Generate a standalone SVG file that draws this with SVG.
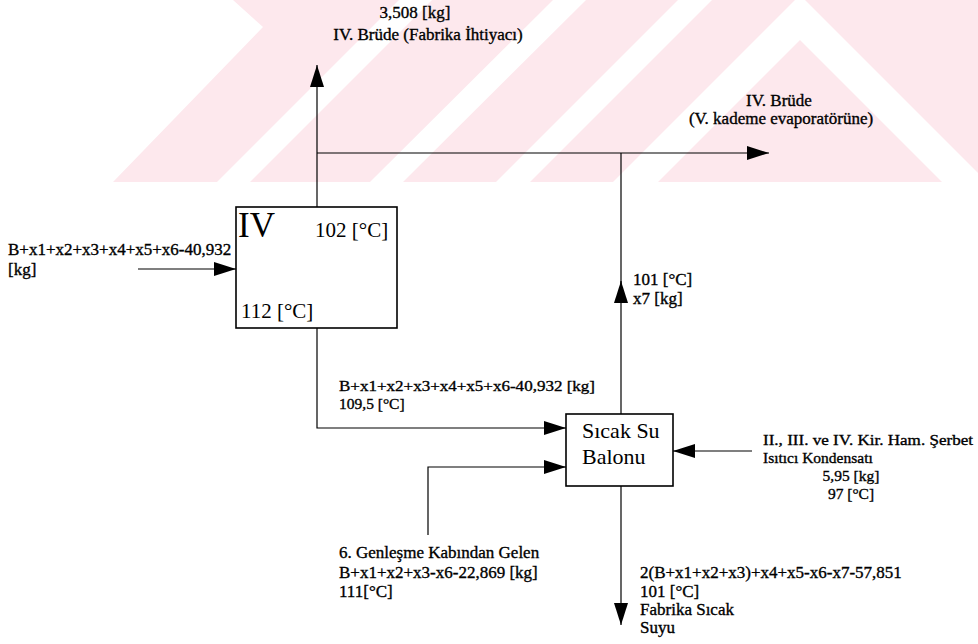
<svg xmlns="http://www.w3.org/2000/svg" width="978" height="644" viewBox="0 0 978 644">
<defs>
<style>
.t{font-family:"Liberation Serif","Times New Roman",serif;font-size:17px;fill:#000;stroke:#000;stroke-width:0.35}
.s{font-size:15.5px}
.big{font-family:"Liberation Serif","Times New Roman",serif;fill:#000}
.ln{fill:none;stroke:#000;stroke-width:1.2}
.box{fill:none;stroke:#000;stroke-width:1.6}
.wm{fill:#fde8ed}
.wh{fill:#fff}
</style>
<clipPath id="wmclip"><rect x="0" y="0" width="978" height="182"/></clipPath>
<marker id="ah" viewBox="0 0 22 14" refX="22" refY="7" markerWidth="22" markerHeight="14" markerUnits="userSpaceOnUse" orient="auto">
<path d="M0,0 L22,7 L0,14 Z" fill="#000"/>
</marker>
</defs>
<rect x="0" y="0" width="978" height="644" fill="#fff"/>
<g id="watermark" clip-path="url(#wmclip)">
<polygon class="wm" points="113,182 263,27 233,0 978,0 978,182"/>
<polygon class="wh" points="217,182 250,182 432,0 399,0"/>
<polygon class="wh" points="370,182 403,182 586,0 553,0"/>
<polygon class="wh" points="496,182 530,182 712,0 678,0"/>
<polygon class="wh" points="800,-5 613,182 658,182 800,40 942,182 987,182"/>
</g>
<g id="connectors">
<path class="ln" d="M317,207 V65" marker-end="url(#ah)"/>
<path class="ln" d="M317,153 H769" marker-end="url(#ah)"/>
<path class="ln" d="M621,414 V281" marker-end="url(#ah)"/>
<line class="ln" x1="621" y1="153" x2="621" y2="300"/>
<path class="ln" d="M138,269 H236" marker-end="url(#ah)"/>
<path class="ln" d="M317,328 V428 H566" marker-end="url(#ah)"/>
<path class="ln" d="M428,535 V467 H566" marker-end="url(#ah)"/>
<path class="ln" d="M752,451 H673" marker-end="url(#ah)"/>
<path class="ln" d="M621,486 V625" marker-end="url(#ah)"/>
</g>
<g id="node-iv">
<rect class="box" x="236" y="207" width="161" height="121"/>
<text class="big" x="238" y="237" font-size="35">IV</text>
<text class="big" x="315" y="237" font-size="21">102 [°C]</text>
<text class="big" x="241" y="318" font-size="21">112 [°C]</text>
</g>
<g id="node-sicak-su">
<rect class="box" x="566" y="414" width="107" height="72"/>
<text class="big" x="582" y="438" font-size="22">Sıcak Su</text>
<text class="big" x="582" y="464" font-size="22">Balonu</text>
</g>
<g id="labels">
<text class="t" x="415" y="18" text-anchor="middle">3,508 [kg]</text>
<text class="t" x="428" y="40" text-anchor="middle">IV. Brüde (Fabrika İhtiyacı)</text>
<text class="t" x="779" y="106" text-anchor="middle">IV. Brüde</text>
<text class="t" x="781" y="124" text-anchor="middle">(V. kademe evaporatörüne)</text>
<text class="t" x="8" y="255">B+x1+x2+x3+x4+x5+x6-40,932</text>
<text class="t" x="8" y="275">[kg]</text>
<text class="t" x="633" y="285">101 [°C]</text>
<text class="t" x="633" y="304">x7 [kg]</text>
<text class="t s" x="339" y="391" textLength="256" lengthAdjust="spacingAndGlyphs">B+x1+x2+x3+x4+x5+x6-40,932 [kg]</text>
<text class="t s" x="339" y="409">109,5 [°C]</text>
<text class="t s" x="763" y="445" textLength="210" lengthAdjust="spacingAndGlyphs">II., III. ve IV. Kir. Ham. Şerbet</text>
<text class="t s" x="763" y="463">Isıtıcı Kondensatı</text>
<text class="t s" x="851" y="481" text-anchor="middle">5,95 [kg]</text>
<text class="t s" x="851" y="499" text-anchor="middle">97 [°C]</text>
<text class="t" x="339" y="558">6. Genleşme Kabından Gelen</text>
<text class="t" x="339" y="578">B+x1+x2+x3-x6-22,869 [kg]</text>
<text class="t" x="339" y="597">111[°C]</text>
<text class="t" x="640" y="578">2(B+x1+x2+x3)+x4+x5-x6-x7-57,851</text>
<text class="t" x="640" y="597">101 [°C]</text>
<text class="t" x="640" y="615">Fabrika Sıcak</text>
<text class="t" x="640" y="633">Suyu</text>
</g>
</svg>
